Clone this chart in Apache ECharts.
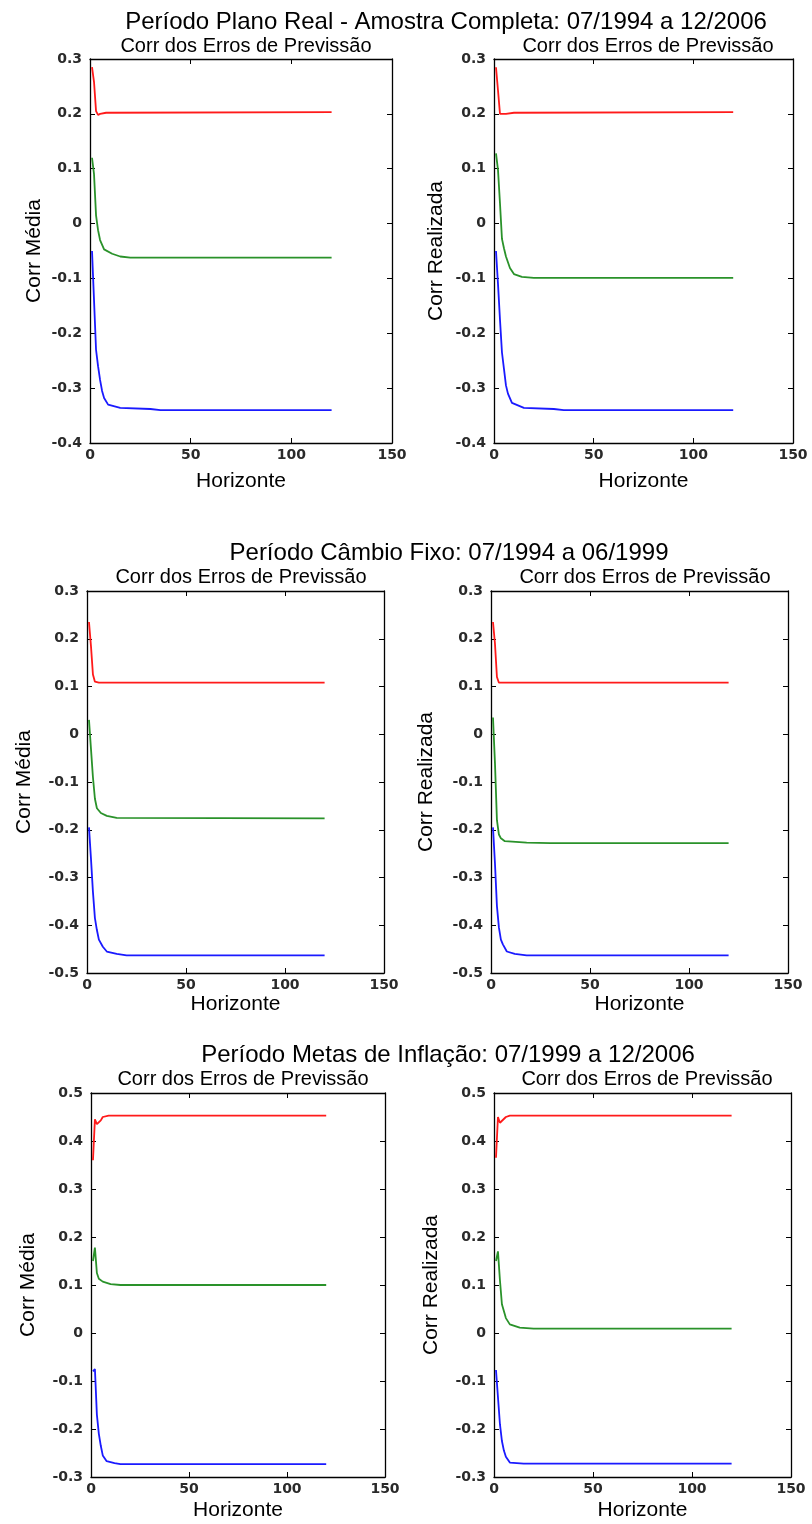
<!DOCTYPE html>
<html>
<head>
<meta charset="utf-8">
<script src="https://cdn.jsdelivr.net/npm/echarts@6/dist/echarts.min.js"></script>
<style>
html,body{margin:0;padding:0;background:#fff;}
#c{width:812px;height:1524px;}
</style>
</head>
<body>
<div id="c"></div>
<script>
// ---------- Titles ----------
const mainTitles = [
  'Período Plano Real - Amostra Completa: 07/1994 a 12/2006',
  'Período Câmbio Fixo: 07/1994 a 06/1999',
  'Período Metas de Inflação: 07/1999 a 12/2006'
];
const subTitle = 'Corr dos Erros de Previssão';
const yNameLeft = 'Corr Média';
const yNameRight = 'Corr Realizada';
const xName = 'Horizonte';
const xTicks = [0, 50, 100, 150];
const yRanges = [[-0.4, 0.3], [-0.5, 0.3], [-0.3, 0.5]];

// ---------- Data: [horizonte, correlação] ----------
// Plano Real - Corr Média
const realMediaRed   = [[1,0.285],[2,0.258],[3,0.205],[4,0.198],[5,0.2],[8,0.202],[120,0.203]];
const realMediaGreen = [[1,0.12],[2,0.09],[3,0.015],[4,-0.012],[5,-0.03],[7,-0.047],[11,-0.055],[15,-0.06],[20,-0.062],[120,-0.062]];
const realMediaBlue  = [[1,-0.05],[2,-0.14],[3,-0.23],[4,-0.26],[5,-0.285],[6,-0.305],[7,-0.318],[9,-0.33],[15,-0.336],[30,-0.338],[35,-0.34],[120,-0.34]];
// Plano Real - Corr Realizada
const realRealRed    = [[1,0.285],[2,0.243],[3,0.2],[4,0.198],[6,0.2],[10,0.202],[120,0.203]];
const realRealGreen  = [[1,0.128],[2,0.098],[3,0.037],[4,-0.028],[5,-0.045],[6,-0.06],[8,-0.081],[10,-0.092],[14,-0.097],[20,-0.099],[120,-0.099]];
const realRealBlue   = [[1,-0.05],[2,-0.11],[3,-0.175],[4,-0.235],[5,-0.265],[6,-0.295],[7,-0.31],[9,-0.327],[15,-0.336],[30,-0.338],[35,-0.34],[120,-0.34]];
// Câmbio Fixo - Corr Média
const fixoMediaRed   = [[1,0.235],[2,0.185],[3,0.125],[4,0.11],[6,0.108],[120,0.108]];
const fixoMediaGreen = [[1,0.03],[2,-0.03],[3,-0.09],[4,-0.135],[5,-0.155],[7,-0.165],[10,-0.171],[15,-0.175],[120,-0.176]];
const fixoMediaBlue  = [[1,-0.195],[2,-0.26],[3,-0.33],[4,-0.385],[5,-0.41],[6,-0.43],[8,-0.445],[10,-0.455],[15,-0.46],[20,-0.463],[120,-0.463]];
// Câmbio Fixo - Corr Realizada
const fixoRealRed    = [[1,0.235],[2,0.19],[3,0.12],[4,0.108],[120,0.108]];
const fixoRealGreen  = [[1,0.035],[2,-0.06],[3,-0.18],[4,-0.21],[5,-0.218],[7,-0.224],[18,-0.227],[30,-0.228],[120,-0.228]];
const fixoRealBlue   = [[1,-0.195],[2,-0.27],[3,-0.36],[4,-0.405],[5,-0.43],[6,-0.44],[8,-0.455],[12,-0.46],[18,-0.463],[120,-0.463]];
// Metas de Inflação - Corr Média
const metasMediaRed   = [[1,0.36],[2,0.445],[3,0.435],[4,0.437],[5,0.443],[6,0.45],[9,0.453],[120,0.453]];
const metasMediaGreen = [[1,0.15],[2,0.178],[3,0.125],[4,0.113],[6,0.107],[10,0.102],[15,0.1],[120,0.1]];
const metasMediaBlue  = [[1,-0.08],[2,-0.075],[3,-0.17],[4,-0.21],[5,-0.235],[6,-0.255],[8,-0.267],[12,-0.271],[15,-0.273],[120,-0.273]];
// Metas de Inflação - Corr Realizada
const metasRealRed    = [[1,0.365],[2,0.45],[3,0.438],[4,0.437],[6,0.45],[8,0.453],[120,0.453]];
const metasRealGreen  = [[1,0.15],[2,0.17],[3,0.11],[4,0.06],[6,0.031],[8,0.018],[13,0.011],[20,0.009],[120,0.009]];
const metasRealBlue   = [[1,-0.077],[2,-0.073],[3,-0.19],[4,-0.225],[5,-0.245],[6,-0.258],[8,-0.27],[15,-0.272],[120,-0.272]];

// ---------- Layout ----------
const panels = [
  {grid:{left:90, top:59,  width:302, height:384}, range:0, yname:yNameLeft,  gap:45, xgap:28, data:[realMediaRed, realMediaGreen, realMediaBlue]},
  {grid:{left:494,top:59,  width:299, height:384}, range:0, yname:yNameRight, gap:47, xgap:28, data:[realRealRed, realRealGreen, realRealBlue]},
  {grid:{left:87, top:591, width:297, height:382}, range:1, yname:yNameLeft,  gap:52, xgap:21, data:[fixoMediaRed, fixoMediaGreen, fixoMediaBlue]},
  {grid:{left:491,top:591, width:297, height:382}, range:1, yname:yNameRight, gap:54, xgap:21, data:[fixoRealRed, fixoRealGreen, fixoRealBlue]},
  {grid:{left:91, top:1093,width:294, height:384}, range:2, yname:yNameLeft,  gap:52, xgap:23, data:[metasMediaRed, metasMediaGreen, metasMediaBlue]},
  {grid:{left:494,top:1093,width:297, height:384}, range:2, yname:yNameRight, gap:52, xgap:23, data:[metasRealRed, metasRealGreen, metasRealBlue]}
];
const colors = ['#ff1a1a', '#2a922a', '#1a1aff'];
const FONT = 'Liberation Sans, Arial, sans-serif';

const titleDefs = [
  {text:mainTitles[0], x:441, y:5,    size:24},
  {text:subTitle,      x:241, y:31,   size:20},
  {text:subTitle,      x:643, y:31,   size:20},
  {text:mainTitles[1], x:444, y:536,  size:24},
  {text:subTitle,      x:236, y:562,  size:20},
  {text:subTitle,      x:640, y:562,  size:20},
  {text:mainTitles[2], x:443, y:1038, size:24},
  {text:subTitle,      x:238, y:1064, size:20},
  {text:subTitle,      x:642, y:1064, size:20}
];

const fmt = v => { const r = Math.round(v * 10) / 10; return r === 0 ? '0' : String(r); };

const option = {
  backgroundColor:'#fff',
  animation:false,
  title: titleDefs.map(t => ({
    text:t.text, left:t.x, top:t.y, textAlign:'center',
    textStyle:{fontFamily:FONT, fontSize:t.size, fontWeight:'normal', color:'#000'}
  })),
  grid:[], xAxis:[], yAxis:[], series:[]
};

const tickStyle = {show:true, inside:true, length:5, lineStyle:{color:'#000', width:1}};
const lineStyle = {show:true, onZero:false, lineStyle:{color:'#000', width:1.3}};
const labelStyle = {color:'#2a2a2a', fontFamily:'DejaVu Sans, sans-serif', fontSize:14, fontWeight:'bold'};

panels.forEach((p, i) => {
  option.grid.push(Object.assign({containLabel:false}, p.grid));
  const [ymin, ymax] = yRanges[p.range];
  const xi = option.xAxis.length, yi = option.yAxis.length;
  option.xAxis.push({
    type:'value', gridIndex:i, min:xTicks[0], max:xTicks[xTicks.length-1], interval:50, position:'bottom',
    axisLine:lineStyle, axisTick:tickStyle, splitLine:{show:false},
    axisLabel:Object.assign({margin:5}, labelStyle),
    name:xName, nameLocation:'middle', nameGap:p.xgap,
    nameTextStyle:{fontFamily:FONT, fontSize:21, color:'#000'}
  });
  option.xAxis.push({
    type:'value', gridIndex:i, min:xTicks[0], max:xTicks[xTicks.length-1], interval:50, position:'top',
    axisLine:lineStyle, axisTick:tickStyle, axisLabel:{show:false}, splitLine:{show:false}
  });
  option.yAxis.push({
    type:'value', gridIndex:i, min:ymin, max:ymax, interval:0.1, position:'left',
    axisLine:lineStyle, axisTick:tickStyle, splitLine:{show:false},
    axisLabel:Object.assign({margin:8, formatter:fmt}, labelStyle),
    name:p.yname, nameLocation:'middle', nameGap:p.gap, nameRotate:90,
    nameTextStyle:{fontFamily:FONT, fontSize:21, color:'#000'}
  });
  option.yAxis.push({
    type:'value', gridIndex:i, min:ymin, max:ymax, interval:0.1, position:'right',
    axisLine:lineStyle, axisTick:tickStyle, axisLabel:{show:false}, splitLine:{show:false}
  });
  p.data.forEach((d, k) => {
    option.series.push({
      type:'line', xAxisIndex:xi, yAxisIndex:yi, data:d, showSymbol:false, symbol:'none',
      lineStyle:{color:colors[k], width:1.8}, itemStyle:{color:colors[k]}, z:3
    });
  });
});

const chart = echarts.init(document.getElementById('c'), null, {renderer:'canvas'});
chart.setOption(option);
</script>
</body>
</html>
